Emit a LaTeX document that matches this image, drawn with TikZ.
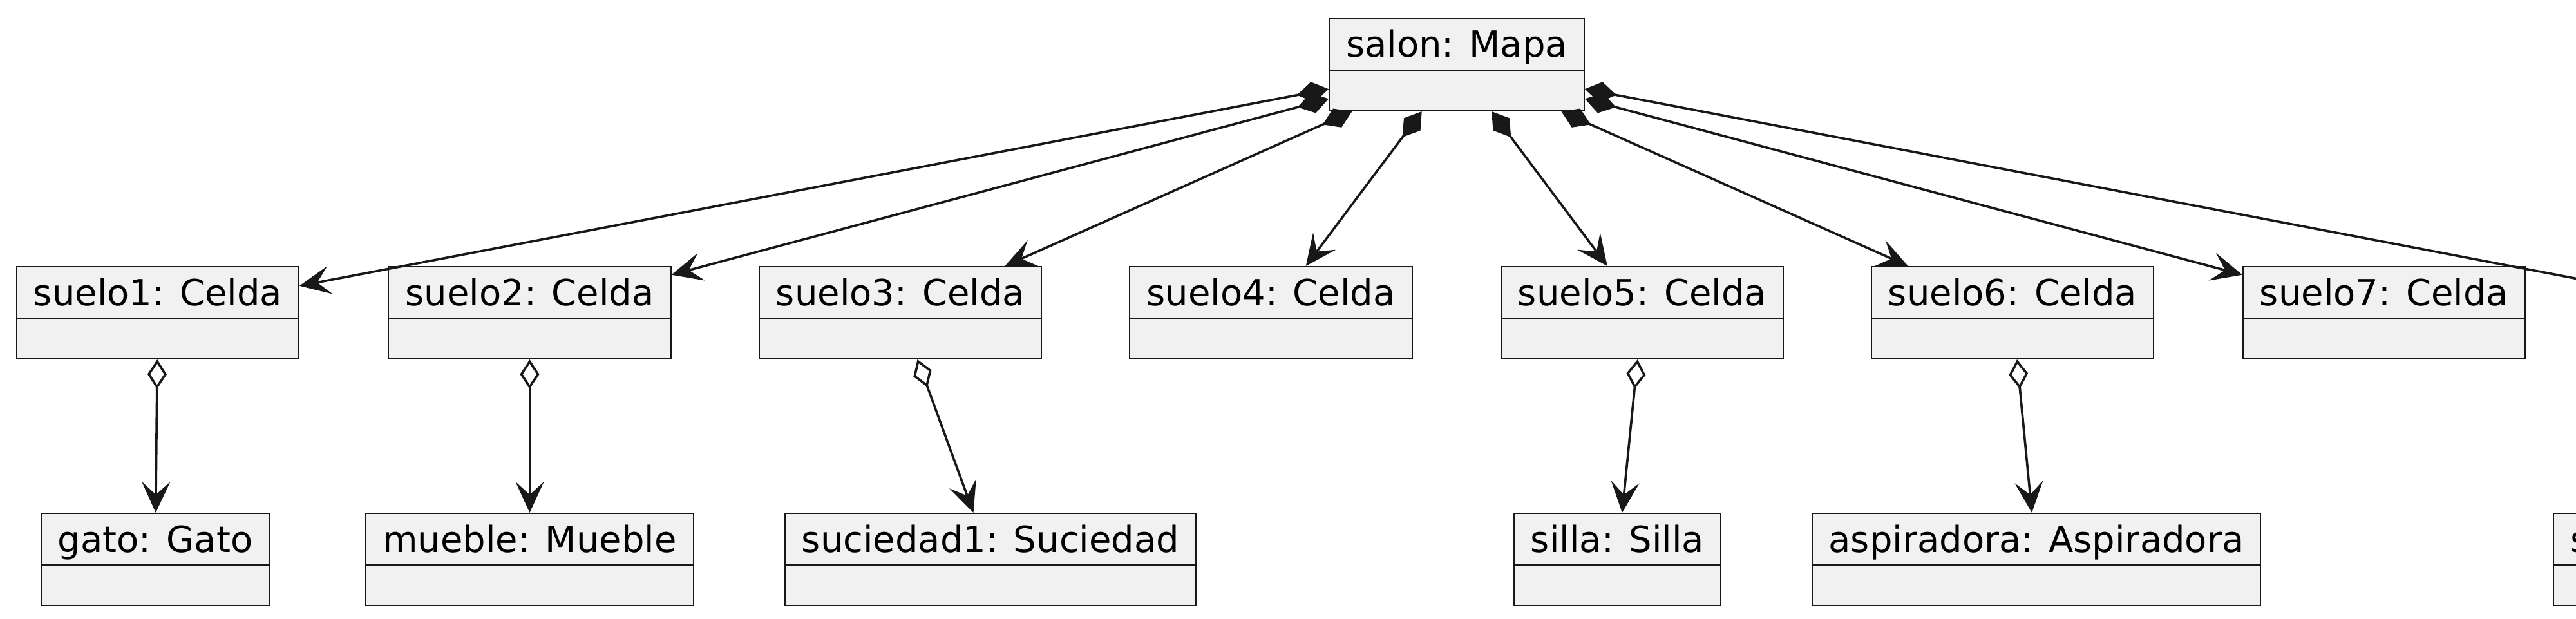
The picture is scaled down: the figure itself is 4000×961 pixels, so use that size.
\documentclass[tikz,border=0pt]{standalone}
\usepackage{fontspec}
\setmainfont{DejaVu Sans}
\usepackage{tikz}
\usetikzlibrary{arrows.meta}
\definecolor{boxfill}{HTML}{F1F1F1}
\definecolor{linecol}{HTML}{181818}

\begin{document}
\begin{tikzpicture}[x=0.25pt,y=-0.25pt,
            obj/.style={draw=linecol,fill=boxfill,line width=0.5pt,inner xsep=6.5pt,inner ysep=0pt,
              text height=15pt,text depth=20.75pt,font=\fontsize{14pt}{17pt}\selectfont,
              path picture={\draw[linecol,line width=0.5pt]
                ([yshift=-20pt]path picture bounding box.north west) -- ([yshift=-20pt]path picture bounding box.north east);}},
            conn/.style={draw=linecol,line width=0.9pt},
            comp/.style={conn,{Diamond[length=12.5pt,width=8pt]}-{Stealth[length=12pt,width=11pt,inset=5pt]}},
            agg/.style={conn,{Diamond[open,fill=white,length=11.5pt,width=7.5pt]}-{Stealth[length=12pt,width=11pt,inset=5pt]}}
          ]
          \useasboundingbox (0,0) rectangle (4000,961);
          \clip (0,0) rectangle (4000,961);

          %mapa
          \node[obj] (salon) at (2262,100.5) {salon: Mapa};

          %celdas
          \node[obj] (suelo1) at (245,485.5) {suelo1: Celda};
          \node[obj] (suelo2) at (822.5,485.5) {suelo2: Celda};
          \node[obj] (suelo3) at (1398,485.5) {suelo3: Celda};
          \node[obj] (suelo4) at (1973.5,485.5) {suelo4: Celda};
          \node[obj] (suelo5) at (2550,485.5) {suelo5: Celda};
          \node[obj] (suelo6) at (3125,485.5) {suelo6: Celda};
          \node[obj] (suelo7) at (3702,485.5) {suelo7: Celda};
          \node[obj] (suelo8) at (4278,485.5) {suelo8: Celda};

          %contenido
          \node[obj] (gato) at (241,868.5) {gato: Gato};
          \node[obj] (mueble) at (822.5,868.5) {mueble: Mueble};
          \node[obj] (suciedad1) at (1538,868.5) {suciedad1: Suciedad};
          \node[obj] (silla) at (2511.5,868.5) {silla: Silla};
          \node[obj] (aspiradora) at (3162,868.5) {aspiradora: Aspiradora};
          \node[obj,anchor=west] (suciedad2) at (3964,868.5) {suciedad2: Suciedad};

          %composicion y agregacion
          \path
          (salon) edge[comp] (suelo1)
          (salon) edge[comp] (suelo2)
          (salon) edge[comp] (suelo3)
          (salon) edge[comp] (suelo4)
          (salon) edge[comp] (suelo5)
          (salon) edge[comp] (suelo6)
          (salon) edge[comp] (suelo7)
          (salon) edge[comp] (suelo8)
          (suelo1) edge[agg] (gato)
          (suelo2) edge[agg] (mueble)
          (suelo3) edge[agg] (suciedad1)
          (suelo5) edge[agg] (silla)
          (suelo6) edge[agg] (aspiradora)
          (suelo8) edge[agg] (suciedad2)
          ;

      \end{tikzpicture}
\end{document}
